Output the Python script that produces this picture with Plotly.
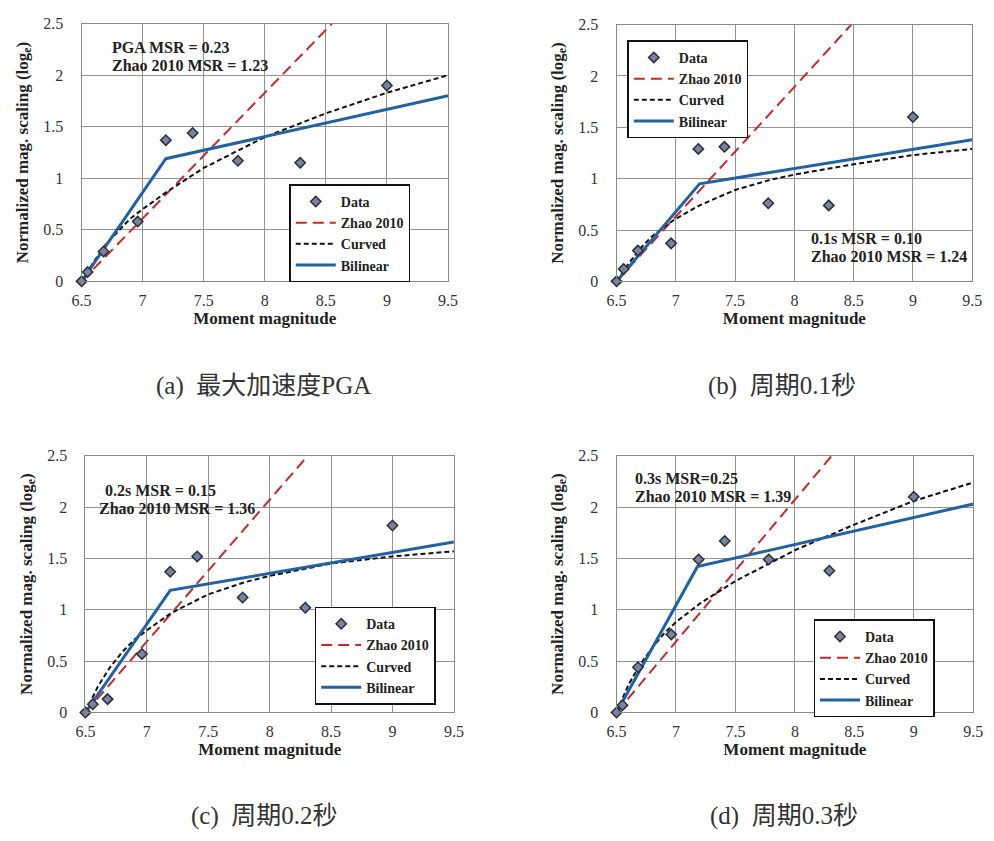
import plotly.graph_objects as go

W, H = 994, 841

# ---------------- data ----------------
data_x = {
    "a": [6.5, 6.55, 6.68, 6.96, 7.19, 7.41, 7.78, 8.29, 9.0],
    "b": [6.5, 6.56, 6.68, 6.96, 7.19, 7.41, 7.78, 8.29, 9.0],
    "c": [6.5, 6.56, 6.68, 6.96, 7.19, 7.41, 7.78, 8.29, 9.0],
    "d": [6.5, 6.55, 6.68, 6.96, 7.19, 7.41, 7.78, 8.29, 9.0],
}
data_y = {
    "a": [0.0, 0.09, 0.29, 0.58, 1.37, 1.44, 1.17, 1.15, 1.90],
    "b": [0.0, 0.12, 0.30, 0.37, 1.29, 1.31, 0.76, 0.74, 1.60],
    "c": [0.0, 0.08, 0.13, 0.57, 1.37, 1.52, 1.12, 1.02, 1.82],
    "d": [0.0, 0.07, 0.44, 0.76, 1.49, 1.67, 1.49, 1.38, 2.10],
}

zhao_x = {"a": [6.5, 8.55], "b": [6.5, 8.48], "c": [6.5, 8.31], "d": [6.5, 8.31]}
zhao_y = {"a": [0.0, 2.5], "b": [0.0, 2.5], "c": [0.0, 2.5], "d": [0.0, 2.5]}

curved_x = [6.5, 6.6, 6.7, 6.8, 6.9, 7.0, 7.2, 7.5, 7.8, 8.0, 8.5, 9.0, 9.5]
curved_y = {
    "a": [0.0, 0.19, 0.36, 0.49, 0.61, 0.70, 0.87, 1.10, 1.28, 1.40, 1.63, 1.83, 2.00],
    "b": [0.0, 0.17, 0.32, 0.44, 0.53, 0.61, 0.74, 0.89, 0.99, 1.04, 1.14, 1.23, 1.29],
    "c": [0.0, 0.25, 0.44, 0.59, 0.71, 0.80, 0.97, 1.15, 1.27, 1.33, 1.45, 1.52, 1.57],
    "d": [0.0, 0.27, 0.47, 0.63, 0.77, 0.88, 1.06, 1.28, 1.46, 1.58, 1.83, 2.06, 2.24],
}

bilin_x = {"a": [6.5, 7.19, 9.5], "b": [6.5, 7.2, 9.5], "c": [6.5, 7.19, 9.5], "d": [6.5, 7.18, 9.5]}
bilin_y = {"a": [0.0, 1.19, 1.80], "b": [0.0, 0.95, 1.38], "c": [0.0, 1.19, 1.66], "d": [0.0, 1.42, 2.03]}

msr_lines = {
    "a": ["PGA MSR = 0.23", "Zhao 2010 MSR = 1.23"],
    "b": ["0.1s MSR = 0.10", "Zhao 2010 MSR = 1.24"],
    "c": ["0.2s MSR = 0.15", "Zhao 2010 MSR = 1.36"],
    "d": ["0.3s MSR=0.25", "Zhao 2010 MSR = 1.39"],
}
captions = {
    "a": "(a)  最大加速度PGA",
    "b": "(b)  周期0.1秒",
    "c": "(c)  周期0.2秒",
    "d": "(d)  周期0.3秒",
}
x_ticks = [6.5, 7, 7.5, 8, 8.5, 9, 9.5]
x_ticklabels = ["6.5", "7", "7.5", "8", "8.5", "9", "9.5"]
y_ticks = [0, 0.5, 1, 1.5, 2, 2.5]
y_ticklabels = ["0", "0.5", "1", "1.5", "2", "2.5"]

# ---------------- layout (pixel boxes) ----------------
plot_px = {  # left, right, top, bottom
    "a": (73, 447, 16, 279),
    "b": (619, 982, 17, 279),
    "c": (77, 453, 457, 719),
    "d": (619, 983, 457, 719),
}
legend_px = {"a": (285, 180), "b": (630, 33), "c": (311, 611), "d": (820, 624)}
msr_px = {
    "a": [(102, 40), (102, 59)],
    "b": [(815, 235), (815, 254)],
    "c": [(95, 492), (89, 511)],
    "d": [(636, 480), (636, 499)],
}
caption_px = {"a": (259, 386), "b": (788, 386), "c": (260, 825), "d": (790, 825)}

SERIF = "'Liberation Serif', 'Times New Roman', serif"
F_CAP = "'Liberation Serif', 'Noto Sans CJK SC', serif"

def px(x, y):
    return x / W, 1 - y / H

fig = go.Figure()
layout = {}
annotations = []
panels = ["a", "b", "c", "d"]
for i, p in enumerate(panels):
    n = "" if i == 0 else str(i + 1)
    xa, ya = "x" + n, "y" + n
    leg = "legend" + n
    l, r, t, b = plot_px[p]
    layout["xaxis" + n] = dict(
        domain=[l / W, r / W], anchor=ya, range=[6.5, 9.5],
        tickvals=x_ticks, ticktext=x_ticklabels,
        showgrid=True, gridcolor="#939393", gridwidth=1,
        showline=True, linecolor="#888", linewidth=1, mirror=True,
        zeroline=False, ticks="", ticklabelstandoff=4,
        tickfont=dict(family=SERIF, size=16, color="#333"),
        title=dict(text="<b>Moment magnitude</b>", standoff=2,
                   font=dict(family=SERIF, size=17, color="#222")),
    )
    layout["yaxis" + n] = dict(
        domain=[1 - b / H, 1 - t / H], anchor=xa, range=[0, 2.5],
        tickvals=y_ticks, ticktext=y_ticklabels,
        showgrid=True, gridcolor="#939393", gridwidth=1,
        showline=True, linecolor="#888", linewidth=1, mirror=True,
        zeroline=False, ticks="", ticklabelstandoff=14,
        tickfont=dict(family=SERIF, size=16, color="#333"),
        title=dict(text="<b>Normalized mag. scaling (log<sub>e</sub>)</b>", standoff=10,
                   font=dict(family=SERIF, size=17, color="#222")),
    )
    lx, ly = px(*legend_px[p])
    layout[leg] = dict(
        x=lx, y=ly, xanchor="left", yanchor="top", xref="paper", yref="paper",
        bgcolor="white", bordercolor="#111", borderwidth=1.5,
        font=dict(family=SERIF, size=14, color="#222"),
        tracegroupgap=0, itemwidth=40,
    )
    fig.add_trace(go.Scatter(
        x=zhao_x[p], y=zhao_y[p], mode="lines", name="<b>Zhao 2010</b>",
        line=dict(color="#c42a2a", width=2, dash="11px,6px"),
        xaxis=xa, yaxis=ya, legend=leg, legendrank=2))
    fig.add_trace(go.Scatter(
        x=curved_x, y=curved_y[p], mode="lines", name="<b>Curved</b>",
        line=dict(color="#111", width=2, dash="5px,3px"),
        xaxis=xa, yaxis=ya, legend=leg, legendrank=3))
    fig.add_trace(go.Scatter(
        x=bilin_x[p], y=bilin_y[p], mode="lines", name="<b>Bilinear</b>",
        line=dict(color="#2362a0", width=3),
        xaxis=xa, yaxis=ya, legend=leg, legendrank=4))
    fig.add_trace(go.Scatter(
        x=data_x[p], y=data_y[p], mode="markers", name="<b>Data</b>",
        marker=dict(symbol="diamond", size=8, color="#7c819e",
                    line=dict(color="#2b2d3a", width=1.5)),
        cliponaxis=False,
        xaxis=xa, yaxis=ya, legend=leg, legendrank=1))
    for txt, (ax_, ay_) in zip(msr_lines[p], msr_px[p]):
        X, Y = px(ax_, ay_)
        annotations.append(dict(
            x=X, y=Y, xref="paper", yref="paper", xanchor="left", yanchor="middle",
            text="<b>" + txt + "</b>", showarrow=False,
            font=dict(family=SERIF, size=16, color="#222")))
    cx, cy = px(*caption_px[p])
    annotations.append(dict(
        x=cx, y=cy, xref="paper", yref="paper", xanchor="center", yanchor="middle",
        text=captions[p], showarrow=False,
        font=dict(family=F_CAP, size=25, color="#333")))

fig.update_layout(
    width=W, height=H, margin=dict(l=0, r=0, t=0, b=0),
    paper_bgcolor="white", plot_bgcolor="white",
    font=dict(family=SERIF),
    showlegend=True, annotations=annotations, **layout)

fig.write_html("out.html")
